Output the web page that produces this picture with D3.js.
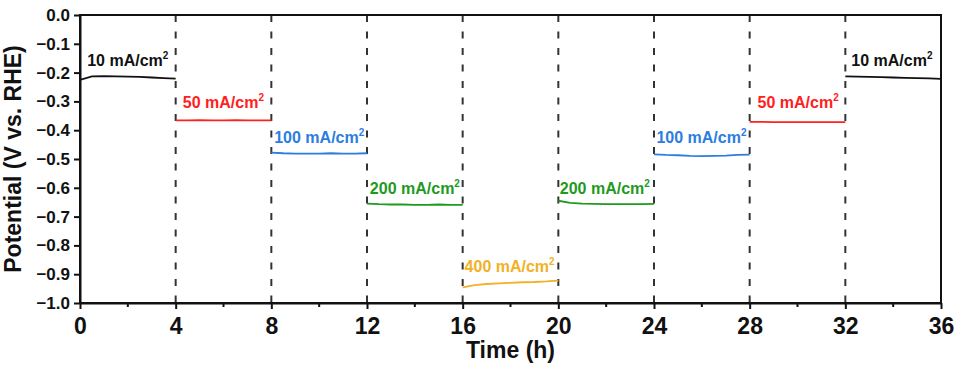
<!DOCTYPE html>
<html>
<head>
<meta charset="utf-8">
<script src="https://cdn.jsdelivr.net/npm/d3@7"></script>
<style>
body{margin:0;background:#fff;}
svg text{font-family:"Liberation Sans",Arial,sans-serif;font-weight:bold;}
</style>
</head>
<body>
<div id="chart"></div>
<script>
// current densities per 4 h step
var labels = ['10 mA/cm', '50 mA/cm', '100 mA/cm', '200 mA/cm', '400 mA/cm', '200 mA/cm', '100 mA/cm', '50 mA/cm', '10 mA/cm'];
var colors = ['#111111', '#ff2020', '#2b7de0', '#1e9a1e', '#f2b126', '#1e9a1e', '#2b7de0', '#ff2020', '#111111'];
var starts = [0, 4, 8, 12, 16, 20, 24, 28, 32];
// potential read along each step, sampled every 0.5 h
var potentials = [
    [-0.225, -0.213, -0.212, -0.213, -0.214, -0.215, -0.217, -0.219, -0.221],
    [-0.366, -0.366, -0.365, -0.366, -0.366, -0.365, -0.366, -0.366, -0.366],
    [-0.478, -0.480, -0.481, -0.481, -0.481, -0.480, -0.481, -0.481, -0.480],
    [-0.655, -0.657, -0.658, -0.658, -0.659, -0.659, -0.658, -0.659, -0.659],
    [-0.946, -0.938, -0.934, -0.932, -0.930, -0.928, -0.927, -0.925, -0.922],
    [-0.645, -0.652, -0.655, -0.656, -0.657, -0.657, -0.657, -0.657, -0.656],
    [-0.484, -0.486, -0.487, -0.489, -0.490, -0.489, -0.488, -0.486, -0.485],
    [-0.371, -0.371, -0.372, -0.372, -0.372, -0.372, -0.372, -0.372, -0.372],
    [-0.213, -0.214, -0.215, -0.216, -0.217, -0.218, -0.219, -0.220, -0.222]
];
// label anchor: [hours after step start, potential of baseline]
var labelPos = [[0.3, -0.178], [0.3, -0.323], [0.12, -0.445], [0.12, -0.62], [0.08, -0.893], [0.06, -0.62], [0.1, -0.445], [0.33, -0.323], [0.25, -0.178]];
var xTicks = [0, 4, 8, 12, 16, 20, 24, 28, 32, 36];
var yTicks = [0, -0.1, -0.2, -0.3, -0.4, -0.5, -0.6, -0.7, -0.8, -0.9, -1.0];

var width = 962, height = 372,
    margin = {top: 15, right: 21, bottom: 69, left: 80};
var w = width - margin.left - margin.right,
    h = height - margin.top - margin.bottom;

var svg = d3.select('#chart').append('svg')
    .attr('width', width).attr('height', height)
    .append('g')
    .attr('transform', 'translate(' + [margin.left, margin.top] + ')');

var x = d3.scaleLinear().domain([0, 36]).range([0, w]);
var y = d3.scaleLinear().domain([-1.0, 0]).range([h, 0]);

// dashed separators
svg.selectAll('.sep').data(starts.slice(1)).enter()
    .append('line')
    .attr('x1', function(d){ return x(d) })
    .attr('x2', function(d){ return x(d) })
    .attr('y1', 0).attr('y2', h)
    .attr('stroke', '#333').attr('stroke-width', 2)
    .attr('stroke-dasharray', '7,9.5');

var line = d3.line()
    .x(function(d){ return x(d[0]) })
    .y(function(d){ return y(d[1]) });

starts.forEach(function(s, i){
    var pts = potentials[i].map(function(v, j){ return [s + j * 0.5, v] });
    svg.append('path')
        .attr('d', line(pts))
        .attr('fill', 'none')
        .attr('stroke', colors[i])
        .attr('stroke-width', 1.8);

    var t = svg.append('text')
        .attr('x', x(s + labelPos[i][0]))
        .attr('y', y(labelPos[i][1]))
        .attr('fill', colors[i])
        .style('font-size', '16px')
        .text(labels[i]);
    t.append('tspan').attr('dy', -7).style('font-size', '10px').text('2');
});

// frame
svg.append('rect')
    .attr('width', w).attr('height', h)
    .attr('fill', 'none').attr('stroke', '#111').attr('stroke-width', 2);

// axes
var xAxis = d3.axisBottom(x).tickValues(xTicks).tickSize(6).tickSizeOuter(0).tickPadding(9);
var gx = svg.append('g')
    .attr('transform', 'translate(0,' + h + ')')
    .call(xAxis);
gx.selectAll('text').style('font-size', '23px').attr('fill', '#111');

var minor = d3.range(2, 36, 4);
gx.selectAll('.minor').data(minor).enter()
    .append('line')
    .attr('x1', function(d){ return x(d) }).attr('x2', function(d){ return x(d) })
    .attr('y1', 0).attr('y2', 4)
    .attr('stroke', '#111').attr('stroke-width', 2);

var yAxis = d3.axisLeft(y).tickValues(yTicks).tickSize(6).tickSizeOuter(0).tickPadding(4)
    .tickFormat(d3.format('.1f'));
var gy = svg.append('g').call(yAxis);
gy.selectAll('text').style('font-size', '17px').attr('fill', '#111');

[gx, gy].forEach(function(g){
    g.select('.domain').attr('stroke', '#111').attr('stroke-width', 2);
    g.selectAll('.tick line').attr('stroke', '#111').attr('stroke-width', 2);
});

// axis titles
svg.append('text')
    .attr('x', w / 2).attr('y', h + 55)
    .attr('text-anchor', 'middle')
    .style('font-size', '23px').attr('fill', '#111')
    .text('Time (h)');

svg.append('text')
    .attr('transform', 'translate(' + (-59) + ',' + (h / 2) + ') rotate(-90)')
    .attr('text-anchor', 'middle')
    .style('font-size', '23px').attr('fill', '#111')
    .text('Potential (V vs. RHE)');
</script>
</body>
</html>
